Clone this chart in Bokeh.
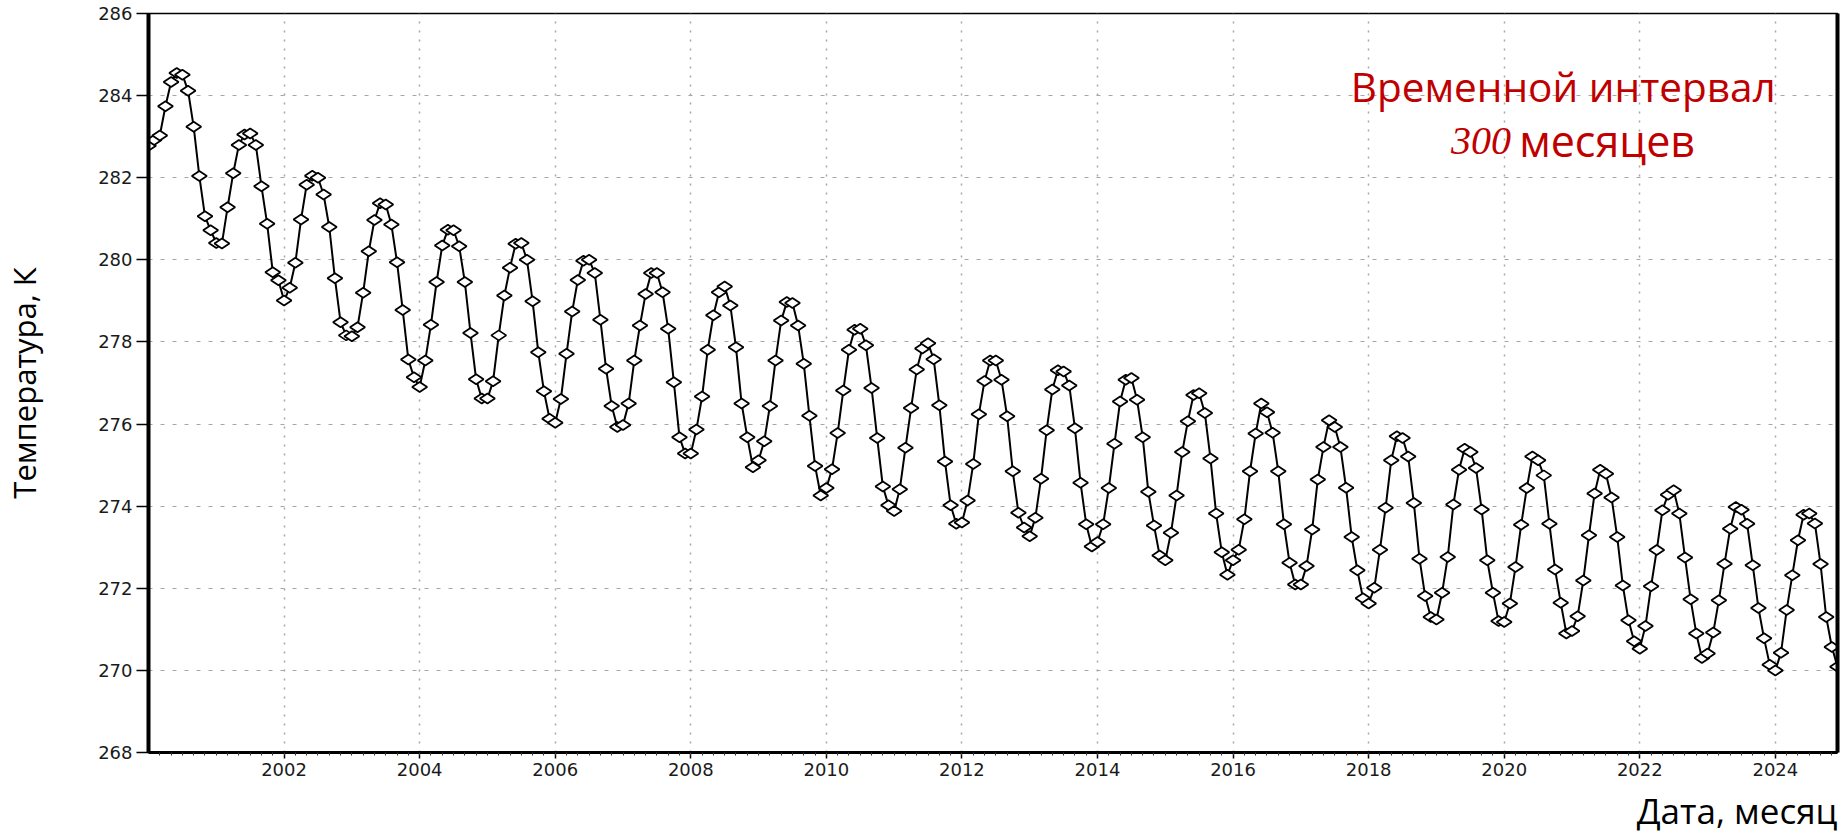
from math import pi

from bokeh.plotting import figure
from bokeh.models import Range1d, LinearAxis, FixedTicker, Title, Label, ColumnDataSource
from bokeh.embed import file_html
from bokeh.resources import INLINE

# Monthly mean temperature, K, January 2000 .. December 2024 (one row per year)
START_YEAR = 2000
temperature_k = [
    282.78, 282.92, 283.03, 283.74, 284.33, 284.55, 284.51, 284.12, 283.24, 282.04, 281.06, 280.72,
    280.41, 280.40, 281.28, 282.11, 282.80, 283.05, 283.08, 282.80, 281.79, 280.88, 279.70, 279.50,
    279.01, 279.32, 279.93, 280.98, 281.83, 282.05, 282.00, 281.59, 280.80, 279.55, 278.48, 278.16,
    278.14, 278.36, 279.20, 280.21, 280.97, 281.38, 281.35, 280.86, 279.94, 278.78, 277.57, 277.14,
    276.90, 277.55, 278.42, 279.46, 280.35, 280.73, 280.72, 280.33, 279.46, 278.22, 277.09, 276.62,
    276.62, 277.04, 278.16, 279.13, 279.81, 280.39, 280.41, 280.00, 278.99, 277.75, 276.80, 276.13,
    276.03, 276.61, 277.71, 278.74, 279.51, 279.98, 280.00, 279.68, 278.54, 277.35, 276.44, 275.93,
    275.98, 276.50, 277.55, 278.40, 279.17, 279.68, 279.68, 279.21, 278.32, 277.02, 275.68, 275.28,
    275.28, 275.87, 276.67, 277.81, 278.65, 279.21, 279.35, 278.89, 277.87, 276.50, 275.68, 274.95,
    275.12, 275.58, 276.44, 277.55, 278.52, 278.97, 278.95, 278.40, 277.47, 276.20, 274.98, 274.26,
    274.44, 274.90, 275.78, 276.82, 277.81, 278.30, 278.32, 277.92, 276.88, 275.66, 274.48, 274.02,
    273.88, 274.41, 275.42, 276.39, 277.33, 277.84, 277.97, 277.58, 276.46, 275.09, 274.02, 273.57,
    273.60, 274.14, 275.03, 276.24, 277.05, 277.55, 277.55, 277.08, 276.19, 274.85, 273.84, 273.48,
    273.27, 273.72, 274.67, 275.85, 276.84, 277.31, 277.28, 276.94, 275.90, 274.57, 273.56, 273.02,
    273.13, 273.56, 274.44, 275.52, 276.55, 277.08, 277.12, 276.59, 275.68, 274.35, 273.53, 272.80,
    272.68, 273.35, 274.26, 275.32, 276.07, 276.71, 276.75, 276.27, 275.16, 273.82, 272.88, 272.33,
    272.68, 272.94, 273.68, 274.85, 275.77, 276.50, 276.29, 275.79, 274.85, 273.56, 272.62, 272.09,
    272.09, 272.54, 273.43, 274.65, 275.44, 276.09, 275.93, 275.44, 274.45, 273.25, 272.44, 271.76,
    271.63, 272.01, 272.94, 273.96, 275.12, 275.70, 275.66, 275.21, 274.08, 272.72, 271.81, 271.30,
    271.24, 271.89, 272.76, 274.04, 274.89, 275.40, 275.32, 274.93, 273.92, 272.68, 271.89, 271.20,
    271.18, 271.63, 272.52, 273.55, 274.44, 275.21, 275.12, 274.75, 273.57, 272.46, 271.65, 270.90,
    270.96, 271.32, 272.19, 273.29, 274.31, 274.89, 274.79, 274.21, 273.25, 272.07, 271.22, 270.71,
    270.53, 271.08, 272.05, 272.93, 273.90, 274.28, 274.39, 273.82, 272.75, 271.73, 270.90, 270.30,
    270.41, 270.92, 271.71, 272.60, 273.45, 273.98, 273.91, 273.57, 272.56, 271.52, 270.78, 270.14,
    270.00, 270.43, 271.47, 272.32, 273.17, 273.79, 273.82, 273.58, 272.59, 271.30, 270.57, 270.09,
]
# time axis in fractional years, one step per month
month_time = [START_YEAR + k / 12 for k in range(len(temperature_k))]

x_tick_years = [2002, 2004, 2006, 2008, 2010, 2012, 2014, 2016, 2018, 2020, 2022, 2024]
x_minor_ticks = [START_YEAR + m / 6 for m in range(1, 150)]
y_ticks = [268, 270, 272, 274, 276, 278, 280, 282, 284, 286]

y_title = "Температура, К"
x_title = "Дата, месяц"
note_line1 = "Временной интервал"
note_number = "300"
note_unit = "месяцев"

RED = "#c00000"
GRID = "#a6a6a6"
TICK_FONT = "DejaVu Sans"
TEXT_FONT = "Open Sans"

src = ColumnDataSource(data=dict(t=month_time, temp=temperature_k))

p = figure(
    width=1843, height=840,
    output_backend="svg", toolbar_location=None,
    x_range=Range1d(month_time[0], month_time[-1]),
    y_range=Range1d(y_ticks[0], y_ticks[-1]),
    min_border_left=145, min_border_right=6, min_border_top=13, min_border_bottom=88,
    background_fill_color="white", border_fill_color="white",
)
p.outline_line_color = "black"
p.outline_line_width = 1.5

# bottom axis (years)
xa = p.xaxis[0]
xa.ticker = FixedTicker(ticks=x_tick_years, minor_ticks=x_minor_ticks)
xa.axis_line_width = 3
xa.axis_line_color = "black"
xa.major_tick_out = 6
xa.major_tick_in = 0
xa.major_tick_line_width = 1.5
xa.minor_tick_out = 3
xa.minor_tick_in = 0
xa.minor_tick_line_color = "#333333"
xa.major_label_standoff = 4
xa.major_label_text_font = TICK_FONT
xa.major_label_text_font_size = "18px"
xa.major_label_text_color = "#1a1a1a"

# left axis (temperature)
ya = p.yaxis[0]
ya.ticker = FixedTicker(ticks=y_ticks)
ya.axis_line_width = 4
ya.axis_line_color = "black"
ya.major_tick_out = 12
ya.major_tick_in = 0
ya.major_tick_line_width = 1.5
ya.minor_tick_out = 0
ya.minor_tick_in = 0
ya.major_label_standoff = 4
ya.major_label_text_font = TICK_FONT
ya.major_label_text_font_size = "18px"
ya.major_label_text_color = "#1a1a1a"
ya.axis_label = y_title
ya.axis_label_text_font = TEXT_FONT
ya.axis_label_text_font_size = "31px"
ya.axis_label_text_font_style = "normal"
ya.axis_label_text_color = "black"
ya.axis_label_standoff = 50

# heavy right border drawn as a bare axis
ra = LinearAxis(ticker=FixedTicker(ticks=[]), axis_line_width=4, axis_line_color="black",
                major_tick_out=0, major_tick_in=0, minor_tick_out=0, minor_tick_in=0,
                major_label_standoff=0, major_label_text_font_size="0px")
p.add_layout(ra, "right")

# grids
p.ygrid.ticker = FixedTicker(ticks=y_ticks)
p.ygrid.grid_line_color = GRID
p.ygrid.grid_line_dash = "4 8"
p.ygrid.grid_line_width = 1
p.xgrid.ticker = FixedTicker(ticks=x_tick_years)
p.xgrid.grid_line_color = GRID
p.xgrid.grid_line_dash = "2 7"
p.xgrid.grid_line_width = 1.5

# series: line plus flat (wide) diamonds
p.line("t", "temp", source=src, line_color="black", line_width=2)
p.scatter("t", "temp", source=src, marker="diamond", size=15, angle=pi / 2,
          fill_color="white", line_color="black", line_width=1.8)

# x-axis caption at the lower right
p.add_layout(Title(text=x_title, align="right", text_font=TEXT_FONT, text_font_size="35px",
                   text_font_style="normal", text_color="black", standoff=12), "below")

# red note in the upper right
p.add_layout(Label(x=2020.87, y=284.21, text=note_line1, text_align="center",
                   text_baseline="alphabetic", text_font=TEXT_FONT, text_font_size="40.5px",
                   text_color=RED))
p.add_layout(Label(x=2020.10, y=282.90, text=note_number, text_align="right",
                   text_baseline="alphabetic", text_font="Liberation Serif",
                   text_font_style="italic", text_font_size="40px", text_color=RED))
p.add_layout(Label(x=2020.22, y=282.90, text=note_unit, text_align="left",
                   text_baseline="alphabetic", text_font=TEXT_FONT, text_font_size="43px",
                   text_color=RED))

with open("out.html", "w") as f:
    f.write(file_html(p, INLINE))
